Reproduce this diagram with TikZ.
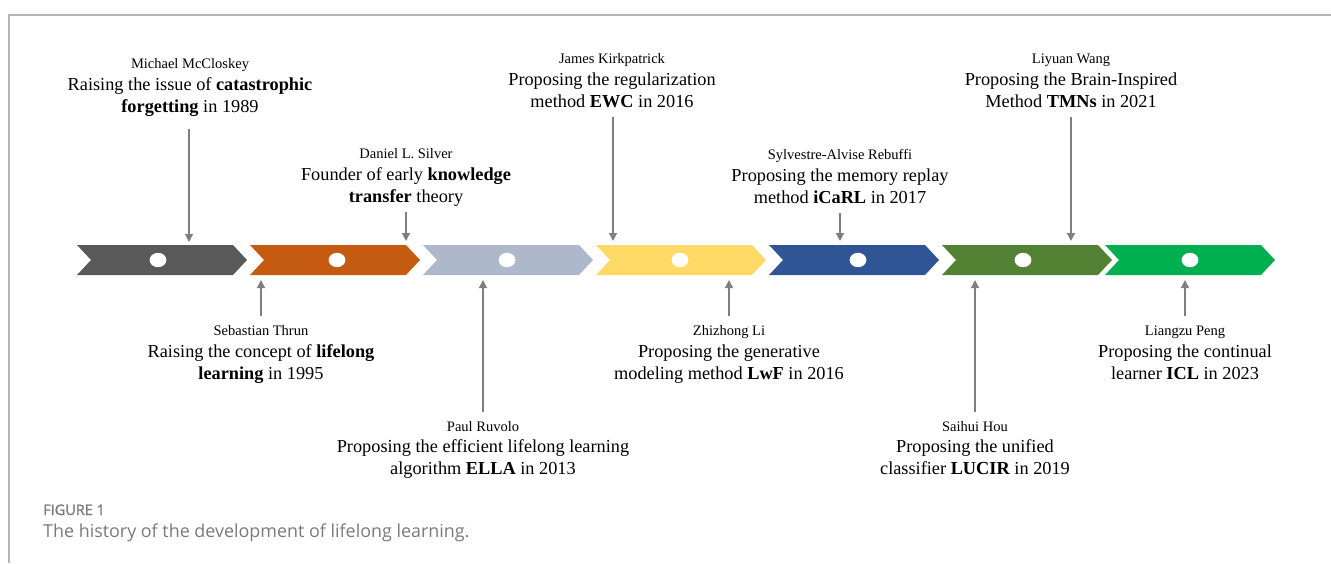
\documentclass[tikz,border=0pt]{standalone}
\usepackage{fontspec}
\setmainfont{Liberation Serif}
\newfontfamily\capfont{Open Sans}
\newfontfamily\capheadfont[FakeBold=1.6]{Open Sans}
\usetikzlibrary{arrows.meta}
\definecolor{stgray}{HTML}{595959}
\definecolor{storange}{HTML}{C55A11}
\definecolor{stsilver}{HTML}{ADB9CA}
\definecolor{styellow}{HTML}{FFD966}
\definecolor{stblue}{HTML}{2F5597}
\definecolor{stgreen}{HTML}{548235}
\definecolor{stlime}{HTML}{00B050}
\definecolor{arrowgray}{HTML}{7F7F7F}
\definecolor{framegray}{HTML}{B4B4B4}
\definecolor{captiongray}{HTML}{7A7A7A}
\begin{document}
\begin{tikzpicture}[x=1pt,y=-1pt,
  who/.style={anchor=base, inner sep=0pt, font=\fontsize{14.5}{17}\selectfont},
  what/.style={anchor=base, inner sep=0pt, font=\fontsize{18.3}{22}\selectfont},
  pointer/.style={draw=arrowgray, line width=1.3pt, -{Triangle[width=8pt,length=8pt]}},
  dot/.style={fill=white, draw=none},
  capline/.style={anchor=base west, inner sep=0pt, text=captiongray}]
\useasboundingbox (0,0) rectangle (1331,563);

% page frame
\draw[framegray, line width=1.5pt] (9,563) -- (9,15) -- (1331,15);

% timeline chevrons with their white markers
\foreach \x/\c/\d [count=\i] in {77/stgray/158, 250/storange/337, 423/stsilver/507,
    596/styellow/680, 769/stblue/858, 942/stgreen/1023, 1105/stlime/1190} {
  \fill[\c] (\x,245) -- ++(156,0) -- ++(14,15) -- ++(-14,15) -- ++(-156,0)
            -- ++(14,-15) -- cycle;
  \fill[dot] (\d,260) ellipse [x radius=8.4, y radius=7.2];
}

% upper annotations
\node[who]  (n1)  at (190,68)  {Michael McCloskey};
\node[what] (d1a) at (190,90)  {Raising the issue of \textbf{catastrophic}};
\node[what] (d1b) at (190,112) {\textbf{forgetting} in 1989};

\node[who]  (n2)  at (406,158) {Daniel L. Silver};
\node[what] (d2a) at (406,180) {Founder of early \textbf{knowledge}};
\node[what] (d2b) at (406,202) {\textbf{transfer} theory};

\node[who]  (n3)  at (612,63)  {James Kirkpatrick};
\node[what] (d3a) at (612,85)  {Proposing the regularization};
\node[what] (d3b) at (612,107) {method \textbf{EWC} in 2016};

\node[who]  (n4)  at (840,159) {Sylvestre-Alvise Rebuffi};
\node[what] (d4a) at (840,181) {Proposing the memory replay};
\node[what] (d4b) at (840,203) {method \textbf{iCaRL} in 2017};

\node[who]  (n5)  at (1071,63)  {Liyuan Wang};
\node[what] (d5a) at (1071,85)  {Proposing the Brain-Inspired};
\node[what] (d5b) at (1071,107) {Method \textbf{TMNs} in 2021};

% lower annotations
\node[who]  (n6)  at (261,335) {Sebastian Thrun};
\node[what] (d6a) at (261,357) {Raising the concept of \textbf{lifelong}};
\node[what] (d6b) at (261,379) {\textbf{learning} in 1995};

\node[who]  (n7)  at (483,431) {Paul Ruvolo};
\node[what] (d7a) at (483,452) {Proposing the efficient lifelong learning};
\node[what] (d7b) at (483,474) {algorithm \textbf{ELLA} in 2013};

\node[who]  (n8)  at (729,335) {Zhizhong Li};
\node[what] (d8a) at (729,357) {Proposing the generative};
\node[what] (d8b) at (729,379) {modeling method \textbf{LwF} in 2016};

\node[who]  (n9)  at (975,431) {Saihui Hou};
\node[what] (d9a) at (975,452) {Proposing the unified};
\node[what] (d9b) at (975,474) {classifier \textbf{LUCIR} in 2019};

\node[who]  (n10)  at (1185,335) {Liangzu Peng};
\node[what] (d10a) at (1185,357) {Proposing the continual};
\node[what] (d10b) at (1185,379) {learner \textbf{ICL} in 2023};

% pointer ends
\coordinate (s1) at (189,129);  \coordinate (e1) at (189,242);
\coordinate (s2) at (406,212);  \coordinate (e2) at (406,241);
\coordinate (s3) at (613,117);  \coordinate (e3) at (613,241);
\coordinate (s4) at (840,213);  \coordinate (e4) at (840,241);
\coordinate (s5) at (1071,117); \coordinate (e5) at (1071,241);
\coordinate (s6) at (261,316);  \coordinate (e6) at (261,280);
\coordinate (s7) at (483,412);  \coordinate (e7) at (483,280);
\coordinate (s8) at (729,316);  \coordinate (e8) at (729,280);
\coordinate (s9) at (975,412);  \coordinate (e9) at (975,280);
\coordinate (s10) at (1185,316); \coordinate (e10) at (1185,280);
\foreach \k in {1,...,10} { \draw[pointer] (s\k) -- (e\k); }

% caption
\node[capline, font=\capheadfont\fontsize{14.5}{17}\selectfont] (fig) at (43,515) {FIGURE 1};
\node[capline, font=\capfont\fontsize{17.9}{21}\selectfont] (cap) at (43,537)
  {The history of the development of lifelong learning.};
\end{tikzpicture}
\end{document}
